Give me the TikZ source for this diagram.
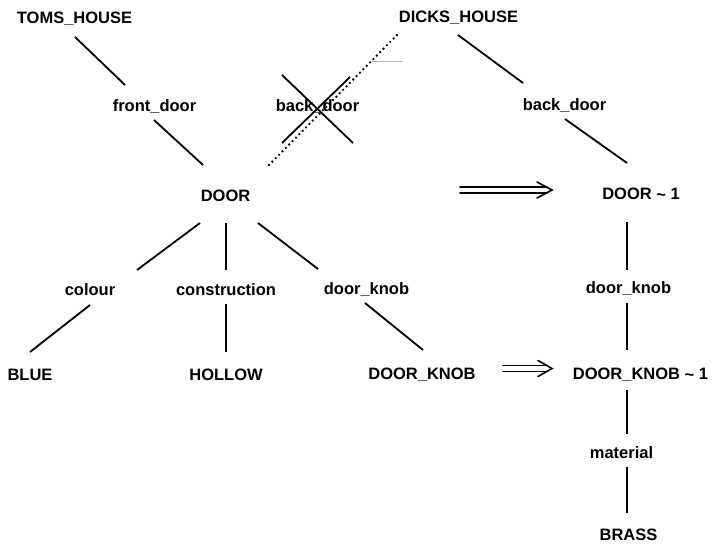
\documentclass[tikz,border=0pt]{standalone}
\usepackage{fontspec}
\setmainfont{Liberation Sans}
\usetikzlibrary{calc}
\newcommand{\lbfont}{\fontsize{16.5}{18}\selectfont\bfseries}
\newcommand{\tld}{\raisebox{-1.5pt}{\textasciitilde}}
\begin{document}
\begin{tikzpicture}[x=1pt,y=-1pt,
  lbl/.style={font=\lbfont, inner sep=0pt, anchor=base},
  edge/.style={line width=1.8pt},
  arr/.style={line width=1.6pt, line cap=round, line join=miter},
  dotline/.style={line width=2.6pt, dash pattern=on 0pt off 4.8pt, line cap=round}]
\useasboundingbox (0,0) rectangle (721,544);
% nodes
\node[lbl] (tom)   at (74.5,23)  {TOMS\_HOUSE};
\node[lbl] (fdl)   at (154.5,111) {front\_door};
\node[lbl] (bdl)   at (317.5,111) {back\_door};
\node[lbl] (door)  at (225.5,201) {DOOR};
\node[lbl] (dick)  at (458.5,22)  {DICKS\_HOUSE};
\node[lbl] (bdr)   at (564.5,110) {back\_door};
\node[lbl] (door1) at (641,199)   {DOOR \tld\ 1};
\node[lbl] (col)   at (90,295)    {colour};
\node[lbl] (con)   at (226,295)   {construction};
\node[lbl] (dkl)   at (366.5,294) {door\_knob};
\node[lbl] (blue)  at (30,380)    {BLUE};
\node[lbl] (hol)   at (226,380)   {HOLLOW};
\node[lbl] (dkn)   at (422,379)   {DOOR\_KNOB};
\node[lbl] (dkn1)  at (640.5,379) {DOOR\_KNOB \tld\ 1};
\node[lbl] (dkr)   at (628.5,293) {door\_knob};
\node[lbl] (mat)   at (621.5,458) {material};
\node[lbl] (brass) at (628.5,540) {BRASS};
% connectors
\draw[edge] ($(tom.base)+(0.5,14)$)  -- ($(fdl.base)+(-29.5,-26)$);
\draw[edge] ($(fdl.base)+(-0.5,9)$)  -- ($(door.base)+(-22.5,-36)$);
\draw[edge] ($(dick.base)+(-0.5,13)$) -- ($(bdr.base)+(-41.5,-27)$);
\draw[edge] ($(bdr.base)+(0.5,9)$)   -- ($(door1.base)+(-14,-36)$);
\draw[edge] ($(door.base)+(-25.5,22)$) -- ($(col.base)+(47,-25)$);
\draw[edge] ($(door.base)+(0.5,22)$)  -- ($(con.base)+(0,-25)$);
\draw[edge] ($(door.base)+(32.5,22)$) -- ($(dkl.base)+(-48.5,-25)$);
\draw[edge] ($(col.base)+(0,10)$)     -- ($(blue.base)+(0,-28)$);
\draw[edge] ($(con.base)+(0,9)$)      -- ($(hol.base)+(0,-28)$);
\draw[edge] ($(dkl.base)+(-1.5,9)$)   -- ($(dkn.base)+(1,-29)$);
\draw[edge] ($(door1.base)+(-14,23)$) -- ($(dkr.base)+(-1.5,-23)$);
\draw[edge] ($(dkr.base)+(-1.5,10)$)  -- ($(dkn1.base)+(-13.5,-29)$);
\draw[edge] ($(dkn1.base)+(-13.5,11)$) -- ($(mat.base)+(5.5,-24)$);
\draw[edge] ($(mat.base)+(5.5,9)$)    -- ($(brass.base)+(-1.5,-27)$);
% crossed-out back_door
\draw[edge] ($(bdl.base)+(-35.5,-36)$) -- ($(bdl.base)+(35.5,32)$);
\draw[edge] ($(bdl.base)+(-35.5,32)$)  -- ($(bdl.base)+(32.5,-34)$);
\draw[dotline] ($(door.base)+(43.5,-36)$) -- ($(dick.base)+(-60.5,12)$);
\draw[gray!60, line width=0.5pt] ($(dick.base)+(-86.5,39)$) -- ($(dick.base)+(-55.5,39)$);
% transformation arrows
\coordinate (a1s) at (460,190);
\coordinate (a1e) at (552,190);
\coordinate (a2s) at (503,368.5);
\coordinate (a2e) at (552,368.5);
\draw[arr] ($(a1s)+(0,-3)$) -- ($(a1e)+(-5,-3)$);
\draw[arr] ($(a1s)+(0,3)$)  -- ($(a1e)+(-5,3)$);
\draw[arr] ($(a1e)+(-15,-8)$) -- (a1e) -- ($(a1e)+(-15,8)$);
\draw[arr] ($(a2s)+(0,-3)$) -- ($(a2e)+(-5,-3)$);
\draw[arr] ($(a2s)+(0,3)$)  -- ($(a2e)+(-5,3)$);
\draw[arr] ($(a2e)+(-14,-8)$) -- (a2e) -- ($(a2e)+(-14,8)$);
\end{tikzpicture}
\end{document}
